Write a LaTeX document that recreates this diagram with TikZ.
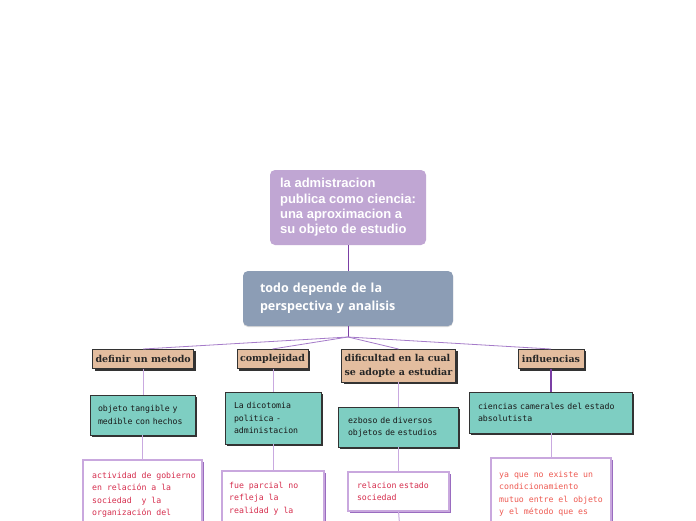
\documentclass[tikz,border=0pt]{standalone}
\usepackage{fontspec}
\setmainfont{Liberation Sans}
\newfontfamily\titlefont{Liberation Sans}
\newfontfamily\grayfont{Open Sans}
\newfontfamily\tanfont{DejaVu Serif}
\newfontfamily\pixfont{DejaVu Sans Mono}
\usetikzlibrary{shadows}
\definecolor{titlefill}{HTML}{C0A6D3}
\definecolor{grayfill}{HTML}{8C9DB5}
\definecolor{tanfill}{HTML}{E3BD9F}
\definecolor{tealfill}{HTML}{7ECEC2}
\definecolor{darkline}{HTML}{333333}
\definecolor{rootline}{HTML}{7B3FA5}
\definecolor{branchline}{HTML}{A57BC9}
\definecolor{lightline}{HTML}{C9A9E0}
\definecolor{redborder}{HTML}{C9A8DE}
\definecolor{redshadow}{HTML}{9A6CC0}
\definecolor{redtxt}{HTML}{D62E4E}
\definecolor{salmontxt}{HTML}{EE5A52}
\tikzset{
  boxnw/.style={anchor=north west, outer sep=0pt},
  titlebox/.style={boxnw, fill=titlefill, rounded corners=5pt, text=white,
    font=\titlefont\bfseries\fontsize{13}{15.3}\selectfont, align=left, inner sep=0pt},
  graybox/.style={boxnw, fill=grayfill, rounded corners=5pt, text=white,
    font=\grayfont\bfseries\fontsize{12.5}{18}\selectfont, align=left, inner xsep=17pt, inner ysep=0pt,
    drop shadow={shadow xshift=0pt, shadow yshift=-1pt, fill=black!15, opacity=1}},
  tanbox/.style={boxnw, fill=tanfill, draw=darkline, line width=0.8pt, text=black!85,
    font=\tanfont\bfseries\fontsize{9.5}{14}\selectfont, align=left, inner xsep=3pt, inner ysep=0pt,
    drop shadow={shadow xshift=2pt, shadow yshift=-2pt, fill=darkline, opacity=1}},
  tealbox/.style={boxnw, fill=tealfill, draw=darkline, line width=0.8pt, text=black!90,
    font=\pixfont\fontsize{8.2}{12.5}\selectfont, align=left, inner ysep=0pt,
    drop shadow={shadow xshift=2pt, shadow yshift=-2pt, fill=darkline, opacity=1}},
  redbox/.style={boxnw, fill=white, draw=redborder, line width=1.1pt, text=redtxt,
    font=\pixfont\fontsize{8.2}{12.3}\selectfont, align=left, inner ysep=0pt,
    drop shadow={shadow xshift=2pt, shadow yshift=-2pt, fill=redshadow, opacity=1}},
  redtext/.style={anchor=north west, inner sep=0pt, text=redtxt,
    font=\pixfont\fontsize{8.2}{12.3}\selectfont, align=left},
  rootconn/.style={draw=rootline, line width=1pt},
  branchconn/.style={draw=branchline, line width=0.8pt},
  lightconn/.style={draw=lightline, line width=1pt},
  thickconn/.style={draw=rootline, line width=2pt},
}
\begin{document}
\begin{tikzpicture}[x=1pt,y=-1pt]
\useasboundingbox (0,0) rectangle (696,520);
\fill[white] (0,0) rectangle (696,520);
\clip (0,0) rectangle (696,520);

% root
\node[titlebox, minimum width=156pt, minimum height=75pt] (title) at (270,170)
  {la admistracion\\publica como ciencia:\\una aproximacion a\\su objeto de estudio};
\node[graybox, minimum width=210pt, minimum height=55pt, text width=176pt] (gray) at (243,271)
  {todo depende de la\\perspectiva y analisis};
\coordinate (jn) at (348,337);

% level 2
\node[tanbox, minimum width=101pt, minimum height=19.5pt] (def) at (92.5,349) {definir un metodo};
\node[tanbox, minimum width=67pt, minimum height=19.5pt] (comp) at (237,349) {complejidad};
\node[tanbox, minimum width=114pt, minimum height=33pt] (dif) at (341.5,349) {dificultad en la cual\\se adopte a estudiar};
\node[tanbox, minimum width=66pt, minimum height=19.5pt] (infl) at (518,349) {influencias};

% level 3
\node[tealbox, minimum width=105pt, minimum height=40pt, inner xsep=8pt, text width=89pt] (obj) at (90,395)
  {objeto tangible y\\medible con hechos};
\node[tealbox, minimum width=96pt, minimum height=52pt, inner xsep=9pt, text width=78pt] (dic) at (225,392)
  {La dicotomia\\politica -\\administacion};
\node[tealbox, minimum width=120pt, minimum height=40pt, inner xsep=10pt, text width=100pt] (ezb) at (338,407)
  {ezboso de diversos\\objetos de estudios};
\node[tealbox, minimum width=163pt, minimum height=41pt, inner xsep=9pt, text width=145pt] (cien) at (469,392)
  {ciencias camerales del estado\\absolutista};

% level 4
\node[redbox, minimum width=119pt, minimum height=100pt] (act) at (83,460) {};
\node[redtext] (actt) at (92,472)
  {actividad de gobierno\\en relación a la\\sociedad\ \ y la\\organización del};
\node[redbox, minimum width=102pt, minimum height=100pt] (fue) at (222,471) {};
\node[redtext] (fuet) at (229,482)
  {fue parcial no\\refleja la\\realidad y la};
\node[redbox, minimum width=101pt, minimum height=39pt, inner xsep=9pt, text width=83pt] (rel) at (348,472)
  {relacion estado\\sociedad};
\node[redbox, minimum width=120pt, minimum height=100pt] (ya) at (491,458) {};
\node[redtext, text=salmontxt] (yat) at (499,471)
  {ya que no existe un\\condicionamiento\\mutuo entre el objeto\\y el método que es};
\coordinate (relbelow) at (400,530);

% connectors
\draw[rootconn] (title.south) -- (gray.north);
\draw[rootconn] (gray.south) -- (jn);
\draw[branchconn] (jn) -- (def.north);
\draw[branchconn] (jn) -- (comp.north);
\draw[branchconn] (jn) -- (dif.north);
\draw[branchconn] (jn) -- (infl.north);
\draw[lightconn] (def.south) -- (obj.north -| def.south);
\draw[lightconn] (obj.south) -- (act.north);
\draw[lightconn] (dic.north |- comp.south) -- (dic.north);
\draw[lightconn] (dic.south) -- (fue.north);
\draw[lightconn] (dif.south) -- (ezb.north -| dif.south);
\draw[lightconn] (ezb.south) -- (rel.north -| ezb.south);
\draw[lightconn] (rel.south) -- (relbelow);
\draw[thickconn] (infl.south) -- (cien.north -| infl.south);
\draw[lightconn] (cien.south -| ya.north) -- (ya.north);
\end{tikzpicture}
\end{document}
